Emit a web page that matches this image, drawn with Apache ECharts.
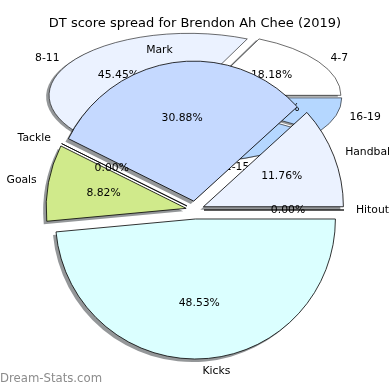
<!DOCTYPE html>
<html><head><meta charset="utf-8">
<script src="https://cdn.jsdelivr.net/npm/echarts@6/dist/echarts.min.js"></script>
<style>html,body{margin:0;padding:0;background:#fff}#c{width:390px;height:390px}</style>
</head><body><div id="c"></div>
<script>
const chartTitle = 'DT score spread for Brendon Ah Chee (2019)';
const statNames = ['Hitout', 'Handball', 'Mark', 'Tackle', 'Goals', 'Kicks'];
const statValues = [0, 8, 21, 0, 6, 33];
const statColors = ['#ffffff', '#ebf2ff', '#c5d9ff', '#ffffff', '#d0ea8b', '#dbffff'];
const rangeNames = ['4-7', '8-11', '12-15', '16-19'];
const rangeValues = [2, 5, 3, 1];
const rangeColors = ['#ffffff', '#ebf2ff', '#b5d7ff', '#b5d7ff'];
const watermark = 'Dream-Stats.com';

const FONT = 'DejaVu Sans';
const FS = 10.8;
const sum = a => a.reduce((s, v) => s + v, 0);
const statTotal = sum(statValues);
const rangeTotal = sum(rangeValues);
const pct = (v, t) => (v / t * 100).toFixed(2) + '%';

// back (elliptical) pie
const BCX = 195, BCY = 97, BR = 140, BK = 62 / 140, BEXP = 7;
const BSH_DX = -3, BSH_DY = 1.35;
// front pie
const FCX = 195, FCY = 210, FR = 140, FEXP = 9;
const SH_DX = -3, SH_DY = 3;
const SHADOW = 'rgba(60,66,70,0.55)';

const rangeData = rangeValues.map((v, i) => {
  const start = sum(rangeValues.slice(0, i));
  return [1, start, start + v, v, i];
});

function renderBack(params, api) {
  const cs = params.coordSys;
  const i = api.value(4);
  const p1 = api.coord([1, api.value(1)]);
  const p2 = api.coord([1, api.value(2)]);
  let a1 = Math.atan2(cs.cy - p1[1], p1[0] - cs.cx);
  if (a1 < -1e-9) a1 += 2 * Math.PI;
  if (Math.abs(a1) < 1e-9) a1 = 0;
  let a2 = Math.atan2(cs.cy - p2[1], p2[0] - cs.cx);
  while (a2 <= a1 + 1e-9) a2 += 2 * Math.PI;
  const m = (a1 + a2) / 2;
  const ex = BEXP * Math.cos(m), ey = -BEXP * Math.sin(m);
  const r = cs.r;
  const mk = (dx, dy, style, z2) => ({
    type: 'sector',
    shape: { cx: cs.cx + ex + dx, cy: cs.cy + ey + dy, r: r, r0: 0, startAngle: -a1, endAngle: -a2, clockwise: false },
    originX: cs.cx + dx, originY: cs.cy + dy, scaleY: BK,
    style: style, z2: z2
  });
  const sx = cs.cx + ex, sy = cs.cy + ey * BK;
  const c = Math.cos(m), s = Math.sin(m);
  return {
    type: 'group',
    children: [
      mk(BSH_DX, BSH_DY, { fill: SHADOW, stroke: null }, 0),
      mk(0, 0, { fill: rangeColors[i], stroke: '#000', lineWidth: 0.8, strokeNoScale: true }, 1),
      { type: 'text', x: sx + 1.1 * r * c, y: sy - 1.1 * r * BK * s, z2: 2,
        style: { text: rangeNames[i], fill: '#000', fontSize: FS, fontFamily: FONT, align: c >= 0 ? 'left' : 'right', verticalAlign: 'middle' } },
      { type: 'text', x: sx + 0.6 * r * c, y: sy - 0.6 * r * BK * s, z2: 2,
        style: { text: pct(rangeValues[i], rangeTotal), fill: '#000', fontSize: FS, fontFamily: FONT, align: 'center', verticalAlign: 'middle' } }
    ]
  };
}

const pieBase = {
  type: 'pie', startAngle: 0, clockwise: false, selectedMode: 'multiple',
  selectedOffset: FEXP, avoidLabelOverlap: false, emphasis: { disabled: true },
  animation: false
};

const chart = echarts.init(document.getElementById('c'), null, { renderer: 'canvas' });
chart.setOption({
  animation: false,
  backgroundColor: '#ffffff',
  title: { text: chartTitle, left: 'center', top: 17, padding: 0,
    textStyle: { fontSize: 13, fontWeight: 'normal', color: '#000', fontFamily: FONT } },
  polar: { center: [BCX, BCY], radius: BR },
  angleAxis: { type: 'value', min: 0, max: rangeTotal, startAngle: 0, clockwise: false, show: false },
  radiusAxis: { type: 'value', min: 0, max: 1, show: false },
  graphic: [{ type: 'text', left: 0, top: 373,
    style: { text: watermark, fill: '#8c8c8c', fontSize: 11.7, fontFamily: FONT } }],
  series: [
    { type: 'custom', coordinateSystem: 'polar', z: 1, data: rangeData, renderItem: renderBack, silent: true },
    Object.assign({}, pieBase, {
      z: 2, center: [FCX + SH_DX, FCY + SH_DY], radius: FR, silent: true,
      label: { show: false }, labelLine: { show: false },
      itemStyle: { color: SHADOW, borderWidth: 0 },
      data: statNames.map((n, i) => ({ name: n, value: statValues[i], selected: true }))
    }),
    Object.assign({}, pieBase, {
      z: 3, center: [FCX, FCY], radius: FR,
      itemStyle: { borderColor: '#000', borderWidth: 0.8 },
      select: { itemStyle: { borderColor: '#000', borderWidth: 0.8 } },
      label: { show: true, position: 'outside', formatter: '{b}', color: '#000', fontSize: FS, fontFamily: FONT, distanceToLabelLine: 0 },
      labelLine: { show: false, length: 12, length2: 0 },
      data: statNames.map((n, i) => ({ name: n, value: statValues[i], selected: true, itemStyle: { color: statColors[i] } }))
    }),
    Object.assign({}, pieBase, {
      z: 4, center: [FCX, FCY], radius: 2 * (0.6 * FR - 3), silent: true,
      itemStyle: { color: 'rgba(0,0,0,0)', borderWidth: 0 },
      label: { show: true, position: 'inside', formatter: p => pct(p.value, statTotal), color: '#000', fontSize: FS, fontFamily: FONT },
      labelLine: { show: false },
      data: statNames.map((n, i) => ({ name: n, value: statValues[i], selected: true }))
    })
  ]
});
</script></body></html>
